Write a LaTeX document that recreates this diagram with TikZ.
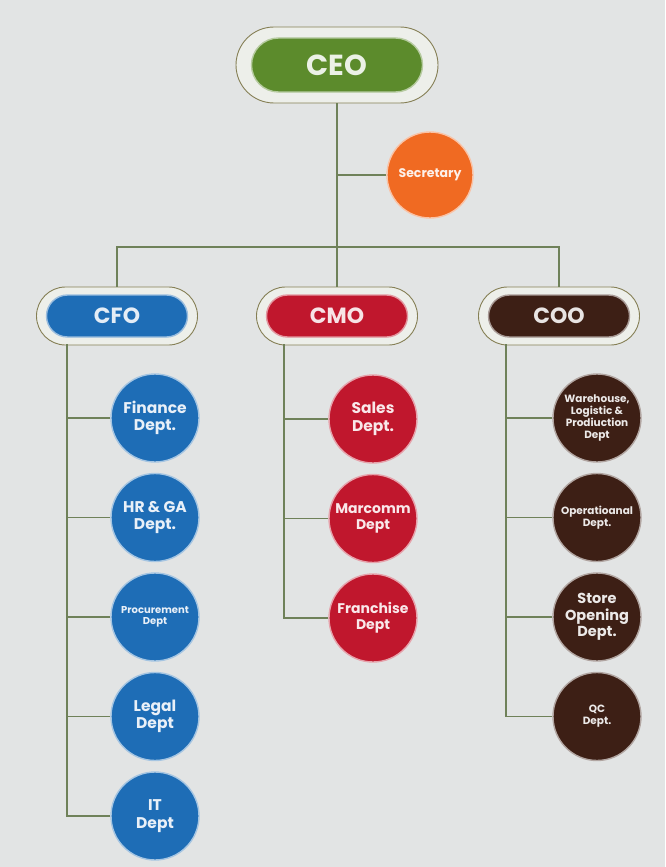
\documentclass[tikz,border=0pt]{standalone}
\usepackage{fontspec}
\setmainfont{Poppins}
\usetikzlibrary{positioning,shapes.misc}
\definecolor{bggray}{HTML}{E2E4E4}
\definecolor{wiregreen}{HTML}{6F8159}
\definecolor{rimolive}{HTML}{857F55}
\definecolor{pillfill}{HTML}{EDEFEA}
\definecolor{ceogreen}{HTML}{5C8B2C}
\definecolor{secorange}{HTML}{F06A22}
\definecolor{cfoblue}{HTML}{1E6DB6}
\definecolor{cmored}{HTML}{C0172D}
\definecolor{coobrown}{HTML}{3D1F15}
\newcommand\deptfont[1]{\fontsize{#1}{1.13\dimexpr#1pt\relax}\selectfont\bfseries}
\tikzset{
  wire/.style={draw=wiregreen,line width=1.3pt},
  outerpill/.style={rounded rectangle,draw=rimolive,fill=pillfill,line width=0.9pt,inner sep=0pt},
  innerpill/.style={rounded rectangle,fill=#1,draw=white!55!#1,line width=1.4pt,text=white!88!#1,inner sep=0pt},
  dept/.style={circle,fill=#1,draw=white!60!#1,line width=1.4pt,text=white!90!#1,align=center,inner sep=0pt,minimum size=88pt}
}
\begin{document}
\begin{tikzpicture}[x=1pt,y=-1pt]
\fill[bggray] (0,0) rectangle (665,867);
\useasboundingbox (0,0) rectangle (665,867);
% top
\node[outerpill,minimum width=202,minimum height=76] (ceo-o) at (337,65) {};
\node[innerpill=ceogreen,minimum width=171,minimum height=54,font=\deptfont{29}] (ceo) at (337,65) {CEO};
\node[dept=secorange,minimum size=86pt,font=\deptfont{12.5}] (sec) at (430,175) {Secretary};
\coordinate (hub) at (337,247);
\draw[wire] (ceo-o) -- (hub);
\draw[wire] (sec) -- (sec -| hub);
% chiefs
\foreach \n/\c/\t/\x in {cfo/cfoblue/CFO/117, cmo/cmored/CMO/337, coo/coobrown/COO/559}{
  \node[outerpill,minimum width=161,minimum height=58] (\n-o) at (\x,316) {};
  \node[innerpill=\c,minimum width=141,minimum height=42,font=\deptfont{22}] (\n) at (\x,316) {\t};
}
\draw[wire] (cfo-o) |- (hub) -| (coo-o);
\draw[wire] (hub) -- (cmo-o);
\coordinate (cfo-trunk) at (67,344);
\coordinate (cmo-trunk) at (284,344);
\coordinate (coo-trunk) at (506,344);
% departments
\foreach \t/\s [count=\i] in {{Finance\\Dept.}/15.5, {HR \& GA\\Dept.}/15.5, {Procurement\\Dept}/10, {Legal\\Dept}/15.5, {IT\\Dept}/15.5}{
  \node[dept=cfoblue,font=\deptfont{\s}] (cfo-\i) at (155,{418+(\i-1)*99.5}) {\t};
  \draw[wire] (cfo-\i.west) -- (cfo-\i.west -| cfo-trunk);
}
\draw[wire] (cfo-trunk) |- (cfo-5.west);
\foreach \t/\s [count=\i] in {{Sales\\Dept.}/15.5, {Marcomm\\Dept}/14, {Franchise\\Dept}/14}{
  \node[dept=cmored,font=\deptfont{\s}] (cmo-\i) at (373,{419+(\i-1)*99.5}) {\t};
  \draw[wire] (cmo-\i.west) -- (cmo-\i.west -| cmo-trunk);
}
\draw[wire] (cmo-trunk) |- (cmo-3.west);
\foreach \t/\s [count=\i] in {{Warehouse,\\Logistic \&\\Prodiuction\\Dept}/10.5, {Operatioanal\\Dept.}/10.5, {Store\\Opening\\Dept.}/14.5, {QC\\Dept.}/10.5}{
  \node[dept=coobrown,font=\deptfont{\s}] (coo-\i) at (597,{418+(\i-1)*99.5}) {\t};
  \draw[wire] (coo-\i.west) -- (coo-\i.west -| coo-trunk);
}
\draw[wire] (coo-trunk) |- (coo-4.west);
\end{tikzpicture}
\end{document}
